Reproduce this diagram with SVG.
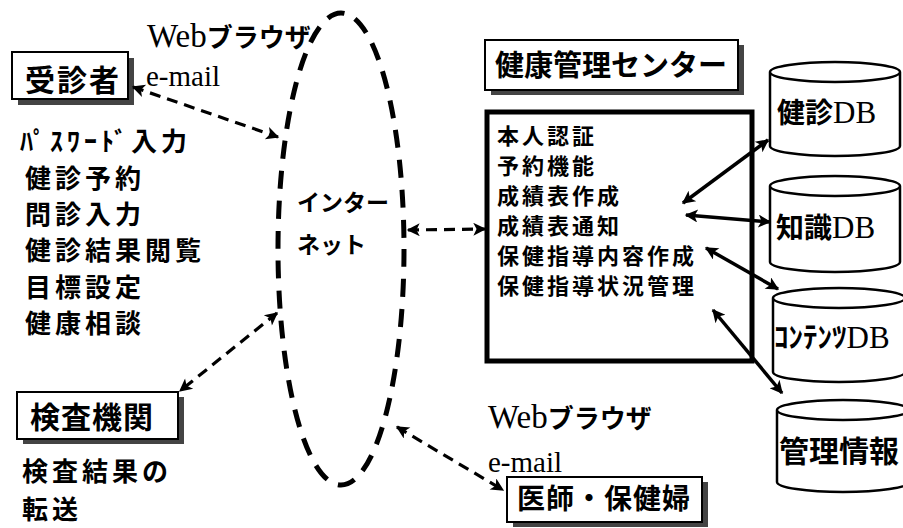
<svg xmlns="http://www.w3.org/2000/svg" width="903" height="528" viewBox="0 0 903 528">
<style>
.jp{font-family:"Noto Sans CJK JP","Noto Sans",sans-serif;font-weight:700;fill:#000}
.lat{font-family:"Liberation Serif","Times New Roman",serif;font-weight:400;fill:#000}
.box{fill:#fff;stroke:#000;stroke-width:2}
.shadow{fill:#444}
.cyl{fill:#fff;stroke:#000;stroke-width:2.5}
.dash{fill:none;stroke:#000;stroke-width:3.2;stroke-dasharray:11 7}
.solid{fill:none;stroke:#000;stroke-width:3.5}
</style>
<defs>
<marker id="ah" viewBox="0 0 10 10" refX="9" refY="5" markerWidth="17" markerHeight="13" markerUnits="userSpaceOnUse" orient="auto-start-reverse">
<path d="M0,0 L10,5 L0,10 L2.5,5 z" fill="#000"/>
</marker>
</defs>
<rect width="903" height="528" fill="#fff"/>

<g id="internet">
<ellipse cx="341" cy="249" rx="63" ry="236" fill="none" stroke="#000" stroke-width="5" stroke-dasharray="18 12"/>
<text class="jp" x="297" y="211" font-size="23">インター</text>
<text class="jp" x="297" y="253" font-size="23">ネット</text>
</g>

<g id="labels-top">
<text x="147" y="47"><tspan class="lat" font-size="33">Web</tspan><tspan class="jp" font-size="26">ブラウザ</tspan></text>
<text class="lat" x="146" y="86" font-size="29">e-mail</text>
</g>

<g id="jushinsha">
<rect class="shadow" x="18" y="58" width="116" height="47"/>
<rect class="box" x="12" y="52" width="116" height="47"/>
<text class="jp" x="25" y="91" font-size="30" letter-spacing="2">受診者</text>
</g>

<g id="jushinsha-list" class="jp" font-size="26" letter-spacing="4">
<text x="20" y="151">ﾊﾟｽﾜｰﾄﾞ入力</text>
<text x="25" y="188">健診予約</text>
<text x="25" y="224">問診入力</text>
<text x="25" y="260">健診結果閲覧</text>
<text x="25" y="297">目標設定</text>
<text x="25" y="333">健康相談</text>
</g>

<g id="kensa">
<rect class="shadow" x="23" y="397" width="161" height="47"/>
<rect class="box" x="17" y="392" width="161" height="47"/>
<text class="jp" x="30" y="428" font-size="30" letter-spacing="1">検査機関</text>
<text class="jp" x="22" y="481" font-size="26" letter-spacing="4">検査結果の</text>
<text class="jp" x="22" y="519" font-size="26" letter-spacing="4">転送</text>
</g>

<g id="center-title">
<rect class="shadow" x="491" y="45" width="253" height="50"/>
<rect class="box" x="485" y="40" width="253" height="50"/>
<text class="jp" x="495" y="76" font-size="29">健康管理センター</text>
</g>

<g id="center-box">
<rect x="487" y="112" width="265" height="249" fill="#fff" stroke="#000" stroke-width="5"/>
<g class="jp" font-size="22" letter-spacing="3">
<text x="497" y="144">本人認証</text>
<text x="497" y="174">予約機能</text>
<text x="497" y="204">成績表作成</text>
<text x="497" y="234">成績表通知</text>
<text x="497" y="264">保健指導内容作成</text>
<text x="497" y="294">保健指導状況管理</text>
</g>
</g>

<g id="db-kenshin">
<path class="cyl" d="M770,72 L770,146 A65,10 0 0 0 900,146 L900,72 A65,10 0 0 0 770,72 Z M770,72 A65,10 0 0 0 900,72"/>
<text x="777" y="123"><tspan class="jp" font-size="28">健診</tspan><tspan class="lat" font-size="31">DB</tspan></text>
</g>

<g id="db-chishiki">
<path class="cyl" d="M770,186 L770,262 A65,10 0 0 0 900,262 L900,186 A65,10 0 0 0 770,186 Z M770,186 A65,10 0 0 0 900,186"/>
<text x="776" y="238"><tspan class="jp" font-size="28">知識</tspan><tspan class="lat" font-size="31">DB</tspan></text>
</g>

<g id="db-contents">
<path class="cyl" d="M773,298 L773,372 A66,10 0 0 0 905,372 L905,298 A66,10 0 0 0 773,298 Z M773,298 A66,10 0 0 0 905,298"/>
<text x="774" y="348"><tspan class="jp" font-size="29">ｺﾝﾃﾝﾂ</tspan><tspan class="lat" font-size="31">DB</tspan></text>
</g>

<g id="db-kanri">
<path class="cyl" d="M777,410 L777,482 A66,10 0 0 0 909,482 L909,410 A66,10 0 0 0 777,410 Z M777,410 A66,10 0 0 0 909,410"/>
<text class="jp" x="779" y="462" font-size="30">管理情報</text>
</g>

<g id="ishi">
<rect class="shadow" x="513" y="482" width="195" height="45"/>
<rect class="box" x="507" y="477" width="195" height="45"/>
<text class="jp" x="517" y="509" font-size="28" letter-spacing="1">医師・保健婦</text>
</g>

<g id="labels-bottom">
<text x="488" y="428"><tspan class="lat" font-size="33">Web</tspan><tspan class="jp" font-size="26">ブラウザ</tspan></text>
<text class="lat" x="488" y="472" font-size="29">e-mail</text>
</g>

<g id="connectors">
<line class="dash" x1="133" y1="87" x2="278" y2="137" marker-start="url(#ah)" marker-end="url(#ah)"/>
<line class="dash" x1="408" y1="230" x2="485" y2="229" marker-start="url(#ah)" marker-end="url(#ah)"/>
<line class="dash" x1="277" y1="313" x2="180" y2="391" marker-start="url(#ah)" marker-end="url(#ah)"/>
<line class="dash" x1="397" y1="427" x2="503" y2="490" marker-start="url(#ah)" marker-end="url(#ah)"/>
<line class="solid" x1="683" y1="203" x2="768" y2="140" marker-start="url(#ah)" marker-end="url(#ah)"/>
<line class="solid" x1="686" y1="215" x2="770" y2="222" marker-start="url(#ah)" marker-end="url(#ah)"/>
<line class="solid" x1="706" y1="248" x2="778" y2="289" marker-start="url(#ah)" marker-end="url(#ah)"/>
<line class="solid" x1="713" y1="310" x2="782" y2="393" marker-start="url(#ah)" marker-end="url(#ah)"/>
</g>
</svg>
